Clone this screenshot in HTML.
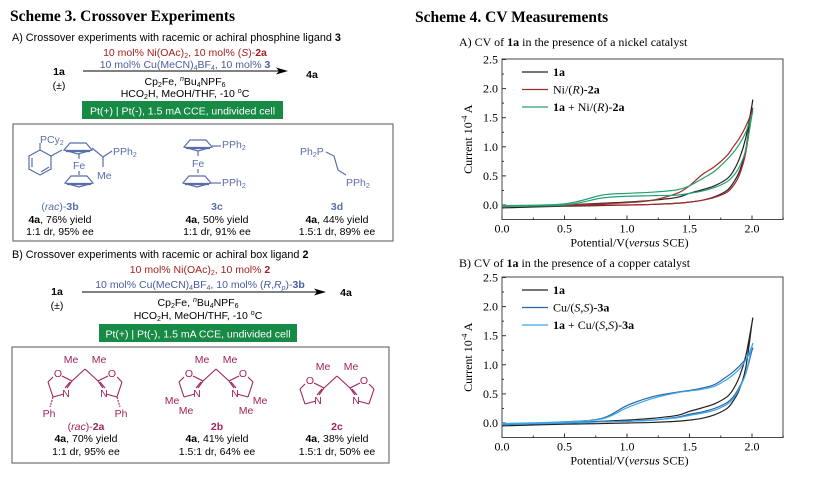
<!DOCTYPE html>
<html><head><meta charset="utf-8"><style>
html,body{margin:0;padding:0;background:#fff}
body{width:814px;height:479px;overflow:hidden;position:relative}
svg{position:absolute;left:0;top:0}
.sans{font-family:"Liberation Sans",sans-serif}
.serif{font-family:"Liberation Serif",serif}
</style></head><body>
<svg id="fig" width="814" height="479" viewBox="0 0 814 479">
<g class="serif"><text x="10" y="21" font-size="15.5" font-weight="bold">Scheme 3. Crossover Experiments</text></g>
<g class="serif"><text x="415" y="22" font-size="15.5" font-weight="bold">Scheme 4. CV Measurements</text></g>

<!-- Panel A left -->
<g class="sans" font-size="10.5">
<text x="12" y="41" font-size="10.8">A) Crossover experiments with racemic or achiral phosphine ligand <tspan font-weight="bold">3</tspan></text>
<text x="185" y="56" text-anchor="middle" fill="#a51f1f">10 mol% Ni(OAc)<tspan font-size="7" dy="2">2</tspan><tspan dy="-2">, 10 mol% (</tspan><tspan font-style="italic">S</tspan>)-<tspan font-weight="bold">2a</tspan></text>
<text x="185" y="68" text-anchor="middle" fill="#4a5d9e">10 mol% Cu(MeCN)<tspan font-size="7" dy="2">4</tspan><tspan dy="-2">BF</tspan><tspan font-size="7" dy="2">4</tspan><tspan dy="-2">, 10 mol% </tspan><tspan font-weight="bold">3</tspan></text>
<line x1="83" y1="71" x2="280" y2="71" stroke="#000" stroke-width="1"/>
<polygon points="288,71 276,67.5 279,71 276,74.5" fill="#000"/>
<text x="59" y="75" text-anchor="middle" font-weight="bold">1a</text>
<text x="59" y="89" text-anchor="middle">(±)</text>
<text x="312" y="78" text-anchor="middle" font-weight="bold">4a</text>
<text x="185" y="85" text-anchor="middle">Cp<tspan font-size="7" dy="2">2</tspan><tspan dy="-2">Fe, </tspan><tspan font-size="7" font-style="italic" dy="-4">n</tspan><tspan dy="4">Bu</tspan><tspan font-size="7" dy="2">4</tspan><tspan dy="-2">NPF</tspan><tspan font-size="7" dy="2">6</tspan></text>
<text x="185" y="97" text-anchor="middle">HCO<tspan font-size="7" dy="2">2</tspan><tspan dy="-2">H, MeOH/THF, -10 </tspan><tspan font-size="7" dy="-4">o</tspan><tspan dy="4">C</tspan></text>
<rect x="82" y="101" width="201" height="18" fill="#178a46"/>
<text x="182.5" y="114.5" text-anchor="middle" fill="#fff" font-size="10.5">Pt(+) | Pt(-), 1.5 mA CCE, undivided cell</text>
<rect x="13" y="124" width="380" height="117" fill="none" stroke="#555" stroke-width="1"/>
</g>

<!-- ligand 3 structures -->
<g stroke="#5a6daa" fill="none" stroke-width="1.2">
<polygon points="40,150 51,156 51,169 40,175 29,169 29,156"/>
<line x1="32" y1="158" x2="32" y2="167"/><line x1="41" y1="172" x2="49" y2="167"/>
<line x1="40" y1="150" x2="40" y2="143"/><line x1="51" y1="156" x2="62" y2="150"/>
<polygon points="64,150 70,143 86,143 92,150 78,154"/><line x1="66" y1="151" x2="90" y2="151" stroke-width="2.2"/>
<line x1="79" y1="154" x2="79" y2="159"/><line x1="79" y1="171" x2="79" y2="175"/>
<polygon points="65,183 71,176 87,176 93,183 79,187"/><line x1="67" y1="184" x2="91" y2="184" stroke-width="2.2"/>
<polyline points="92,148 103,157 112,151"/><line x1="103" y1="157" x2="103" y2="167"/>
<polygon points="184,147 190,140 206,140 212,147 198,151"/><line x1="186" y1="148" x2="210" y2="148" stroke-width="2.2"/>
<line x1="212" y1="146" x2="221" y2="146"/>
<line x1="198" y1="151" x2="198" y2="156"/><line x1="198" y1="169" x2="198" y2="173"/>
<polygon points="183,183 189,176 205,176 211,183 197,187"/><line x1="185" y1="184" x2="209" y2="184" stroke-width="2.2"/>
<line x1="211" y1="183" x2="221" y2="183"/>
<polyline points="326,152 334,156 338,170 346,175"/>
</g>
<g class="sans" font-size="10.5" fill="#5a6daa">
<text x="40" y="143">PCy<tspan font-size="7" dy="2">2</tspan></text>
<text x="73" y="169">Fe</text>
<text x="113" y="155">PPh<tspan font-size="7" dy="2">2</tspan></text>
<text x="97" y="179">Me</text>
<text x="192" y="167">Fe</text>
<text x="222" y="148">PPh<tspan font-size="7" dy="2">2</tspan></text>
<text x="222" y="186">PPh<tspan font-size="7" dy="2">2</tspan></text>
<text x="300" y="155">Ph<tspan font-size="7" dy="2">2</tspan><tspan dy="-2">P</tspan></text>
<text x="346" y="186">PPh<tspan font-size="7" dy="2">2</tspan></text>
<text x="60" y="210" text-anchor="middle">(<tspan font-style="italic">rac</tspan>)-<tspan font-weight="bold">3b</tspan></text>
<text x="217" y="210" text-anchor="middle" font-weight="bold">3c</text>
<text x="337" y="210" text-anchor="middle" font-weight="bold">3d</text>
</g>
<g class="sans" font-size="10.5" fill="#000" text-anchor="middle">
<text x="60" y="223"><tspan font-weight="bold">4a</tspan>, 76% yield</text>
<text x="60" y="235">1:1 dr, 95% ee</text>
<text x="217" y="223"><tspan font-weight="bold">4a</tspan>, 50% yield</text>
<text x="217" y="235">1:1 dr, 91% ee</text>
<text x="337" y="223"><tspan font-weight="bold">4a</tspan>, 44% yield</text>
<text x="337" y="235">1.5:1 dr, 89% ee</text>
</g>

<!-- Panel B left -->
<g class="sans" font-size="10.5">
<text x="12" y="258" font-size="10.8">B) Crossover experiments with racemic or achiral box ligand <tspan font-weight="bold">2</tspan></text>
<text x="200" y="273" text-anchor="middle" fill="#a51f1f">10 mol% Ni(OAc)<tspan font-size="7" dy="2">2</tspan><tspan dy="-2">, 10 mol% </tspan><tspan font-weight="bold">2</tspan></text>
<text x="200" y="288" text-anchor="middle" fill="#4a5d9e">10 mol% Cu(MeCN)<tspan font-size="7" dy="2">4</tspan><tspan dy="-2">BF</tspan><tspan font-size="7" dy="2">4</tspan><tspan dy="-2">, 10 mol% (</tspan><tspan font-style="italic">R</tspan>,<tspan font-style="italic">R</tspan><tspan font-size="7" font-style="italic" dy="2">p</tspan><tspan dy="-2">)-</tspan><tspan font-weight="bold">3b</tspan></text>
<line x1="82" y1="292" x2="318" y2="292" stroke="#000" stroke-width="1"/>
<polygon points="326,292 314,288.5 317,292 314,295.5" fill="#000"/>
<text x="57" y="295" text-anchor="middle" font-weight="bold">1a</text>
<text x="57" y="309" text-anchor="middle">(±)</text>
<text x="346" y="296" text-anchor="middle" font-weight="bold">4a</text>
<text x="198" y="306" text-anchor="middle">Cp<tspan font-size="7" dy="2">2</tspan><tspan dy="-2">Fe, </tspan><tspan font-size="7" font-style="italic" dy="-4">n</tspan><tspan dy="4">Bu</tspan><tspan font-size="7" dy="2">4</tspan><tspan dy="-2">NPF</tspan><tspan font-size="7" dy="2">6</tspan></text>
<text x="198" y="319" text-anchor="middle">HCO<tspan font-size="7" dy="2">2</tspan><tspan dy="-2">H, MeOH/THF, -10 </tspan><tspan font-size="7" dy="-4">o</tspan><tspan dy="4">C</tspan></text>
<rect x="99" y="324" width="198" height="18" fill="#178a46"/>
<text x="198" y="337.5" text-anchor="middle" fill="#fff">Pt(+) | Pt(-), 1.5 mA CCE, undivided cell</text>
<rect x="12" y="347" width="377" height="116" fill="none" stroke="#555" stroke-width="1"/>
</g>
<g id="boxlig"></g>
<g class="sans" font-size="10.5" text-anchor="middle">
<text x="86" y="430" fill="#a0245c">(<tspan font-style="italic">rac</tspan>)-<tspan font-weight="bold">2a</tspan></text>
<text x="217" y="430" fill="#a0245c" font-weight="bold">2b</text>
<text x="337" y="430" fill="#a0245c" font-weight="bold">2c</text>
<text x="86" y="442"><tspan font-weight="bold">4a</tspan>, 70% yield</text>
<text x="86" y="455">1:1 dr, 95% ee</text>
<text x="217" y="442"><tspan font-weight="bold">4a</tspan>, 41% yield</text>
<text x="217" y="455">1.5:1 dr, 64% ee</text>
<text x="337" y="442"><tspan font-weight="bold">4a</tspan>, 38% yield</text>
<text x="337" y="455">1.5:1 dr, 50% ee</text>
</g>

<!-- Chart A -->
<g class="serif" font-size="12">
<text x="459" y="46">A) CV of <tspan font-weight="bold">1a</tspan> in the presence of a nickel catalyst</text>
</g>
<g id="chartA"></g>
<g class="serif" font-size="12">
<text x="459" y="267">B) CV of <tspan font-weight="bold">1a</tspan> in the presence of a copper catalyst</text>
</g>
<g id="chartB"></g>
</svg>
<script>
// ---- Chart data (V, 10^-4 A) ----
const xTicks = [0.0, 0.5, 1.0, 1.5, 2.0];
const yTicks = [0.0, 0.5, 1.0, 1.5, 2.0, 2.5];
const xTickLabels = ["0.0","0.5","1.0","1.5","2.0"];
const yTickLabels = ["0.0","0.5","1.0","1.5","2.0","2.5"];
const potentials = [0.0, 0.5, 0.8, 1.0, 1.2, 1.4, 1.5, 1.6, 1.7, 1.8, 1.85, 1.9, 1.95, 2.0];
// forward (lower) and reverse (upper) sweeps, aligned to potentials
const a1aFwd   = [-0.05,-0.02,-0.01,0.00,0.01,0.03,0.05,0.08,0.14,0.25,0.38,0.58,0.95,1.72];
const a1aRev   = [-0.02,0.00,0.03,0.05,0.08,0.13,0.20,0.26,0.33,0.45,0.58,0.80,1.15,1.72];
const aNiFwd   = [-0.02,-0.01,0.00,0.00,0.01,0.03,0.05,0.08,0.13,0.22,0.33,0.52,0.90,1.60];
const aNiRev   = [-0.02,0.00,0.02,0.04,0.08,0.20,0.33,0.52,0.66,0.85,1.00,1.15,1.35,1.60];
const aMixFwd  = [-0.02,0.00,0.12,0.15,0.16,0.17,0.20,0.24,0.30,0.40,0.50,0.66,0.95,1.55];
const aMixRev  = [-0.01,0.02,0.17,0.20,0.22,0.26,0.33,0.45,0.58,0.78,0.90,1.05,1.25,1.55];
const bCuFwd   = [-0.03,0.00,0.02,0.03,0.05,0.10,0.15,0.19,0.25,0.35,0.45,0.62,0.85,1.25];
const bCuRev   = [-0.02,0.02,0.08,0.30,0.45,0.53,0.56,0.60,0.66,0.80,0.88,0.98,1.10,1.25];
const bMixFwd  = [-0.02,0.00,0.02,0.03,0.05,0.09,0.13,0.17,0.22,0.32,0.42,0.60,0.85,1.32];
const bMixRev  = [-0.01,0.02,0.07,0.26,0.42,0.52,0.55,0.58,0.63,0.75,0.83,0.93,1.08,1.32];
const legendA = ["1a","Ni/(R)-2a","1a + Ni/(R)-2a"];
const legendB = ["1a","Cu/(S,S)-3a","1a + Cu/(S,S)-3a"];

const NS="http://www.w3.org/2000/svg";
function mk(tag,attrs,parent){const e=document.createElementNS(NS,tag);for(const k in attrs)e.setAttribute(k,attrs[k]);parent.appendChild(e);return e;}
function smooth(pts){let d="M"+pts[0][0]+","+pts[0][1];for(let i=0;i<pts.length-1;i++){const p0=pts[Math.max(0,i-1)],p1=pts[i],p2=pts[i+1],p3=pts[Math.min(pts.length-1,i+2)];
d+=" C"+(p1[0]+(p2[0]-p0[0])/6)+","+(p1[1]+(p2[1]-p0[1])/6)+" "+(p2[0]-(p3[0]-p1[0])/6)+","+(p2[1]-(p3[1]-p1[1])/6)+" "+p2[0]+","+p2[1];}return d;}

function drawChart(g,top,series,legend){
  const L=502,R=783,x0=502,xPer=125,y0=top+146,yPer=58.2,T=top,B=y0+14.5;
  const sx=v=>x0+v*xPer, sy=v=>y0-v*yPer;
  const frame=mk('rect',{x:L,y:T,width:R-L,height:B-T,fill:'none',stroke:'#333','stroke-width':0.9},g);
  
  
  xTicks.forEach((t,i)=>{const x=sx(t);mk('line',{x1:x,y1:B,x2:x,y2:B-4,stroke:'#333'},g);
    const tx=mk('text',{x:x,y:B+13,'text-anchor':'middle','font-size':12,class:'serif'},g);tx.textContent=xTickLabels[i];
    
    
    mk('line',{x1:sx(t+0.25),y1:B,x2:sx(t+0.25),y2:B-2,stroke:'#333'},g);});
  yTicks.forEach((t,i)=>{const y=sy(t);mk('line',{x1:L,y1:y,x2:L+4,y2:y,stroke:'#333'},g);
    if(t<2.5)mk('line',{x1:L,y1:sy(t+0.25),x2:L+2,y2:sy(t+0.25),stroke:'#333'},g);
    const ty=mk('text',{x:L-4,y:y+4,'text-anchor':'end','font-size':12,class:'serif'},g);ty.textContent=yTickLabels[i];
    
    });
  const xl=mk('text',{x:(L+R)/2-13,y:B+27,'text-anchor':'middle','font-size':12,class:'serif'},g);
  xl.innerHTML='Potential/V(<tspan font-style="italic">versus</tspan> SCE)';
  
  
  const yl=mk('text',{x:0,y:0,'text-anchor':'middle','font-size':12,class:'serif',transform:`translate(${L-30},${(T+B)/2}) rotate(-90)`},g);
  yl.innerHTML='Current 10<tspan font-size="8" dy="-5">-4</tspan><tspan dy="5"> A</tspan>';
  
  
  series.forEach(s=>{
    const pts=[];potentials.forEach((v,i)=>pts.push([sx(v),sy(s.fwd[i])]));
    for(let i=potentials.length-1;i>=0;i--)pts.push([sx(potentials[i]),sy(s.rev[i])]);
    const p=mk('path',{d:smooth(pts),fill:'none',stroke:s.color,'stroke-width':1.2},g);
    
    
  });
  legend.forEach((lab,i)=>{const y=T+13+i*17.5;
    mk('line',{x1:522,y1:y,x2:548,y2:y,stroke:series[i].color,'stroke-width':1.3},g);
    const t=mk('text',{x:553,y:y+4,'font-size':12,class:'serif'},g);
    t.innerHTML=series[i].html;
    
    });
}
drawChart(document.getElementById('chartA'),59,[
 {key:'1a',fwd:a1aFwd,rev:a1aRev,color:'#222',html:'<tspan font-weight="bold">1a</tspan>'},
 {key:'ni',fwd:aNiFwd,rev:aNiRev,color:'#a8292b',html:'Ni/(<tspan font-style="italic">R</tspan>)-<tspan font-weight="bold">2a</tspan>'},
 {key:'mix',fwd:aMixFwd,rev:aMixRev,color:'#26a172',html:'<tspan font-weight="bold">1a</tspan> + Ni/(<tspan font-style="italic">R</tspan>)-<tspan font-weight="bold">2a</tspan>'}],legendA);
drawChart(document.getElementById('chartB'),277,[
 {key:'1a',fwd:a1aFwd,rev:a1aRev,color:'#222',html:'<tspan font-weight="bold">1a</tspan>'},
 {key:'cu',fwd:bCuFwd,rev:bCuRev,color:'#2a63a6',html:'Cu/(<tspan font-style="italic">S</tspan>,<tspan font-style="italic">S</tspan>)-<tspan font-weight="bold">3a</tspan>'},
 {key:'mix',fwd:bMixFwd,rev:bMixRev,color:'#3aa6ea',html:'<tspan font-weight="bold">1a</tspan> + Cu/(<tspan font-style="italic">S</tspan>,<tspan font-style="italic">S</tspan>)-<tspan font-weight="bold">3a</tspan>'}],legendB);

// box ligand drawings
const bl=document.getElementById('boxlig');
function boxLig(cx,kind){
  const c='#a0245c';
  const g=mk('g',{stroke:c,fill:'none','stroke-width':1.1},bl);
  
  
  const txt=(x,y,s)=>{const t=mk('text',{x:x,y:y,fill:c,stroke:'none','font-size':10.5,class:'sans','text-anchor':'middle'},bl);t.textContent=s;};
  const qy=kind==='2c'?376:369;
  [-1,1].forEach(sd=>{
    const C2=[cx+sd*13,qy+12],O=[cx+sd*27,qy+4],C5=[cx+sd*37,qy+13],C4=[cx+sd*32,qy+28],N=[cx+sd*18,qy+25];
    mk('line',{x1:cx,y1:qy,x2:C2[0],y2:C2[1]},g);
    mk('line',{x1:C2[0],y1:C2[1],x2:O[0]-sd*4,y2:O[1]+3},g);
    mk('line',{x1:O[0]+sd*5,y1:O[1]+4,x2:C5[0],y2:C5[1]},g);
    mk('line',{x1:C5[0],y1:C5[1],x2:C4[0],y2:C4[1]},g);
    mk('line',{x1:C4[0],y1:C4[1],x2:N[0]+sd*3,y2:N[1]},g);
    mk('line',{x1:C2[0],y1:C2[1],x2:N[0],y2:N[1]-6},g);
    mk('line',{x1:C2[0]+sd*2,y1:C2[1]+1,x2:N[0]+sd*2,y2:N[1]-6},g);
    txt(O[0],O[1]+4,'O');txt(N[0]+sd*1,N[1]+3,'N');
    if(kind==='2a'){mk('line',{x1:C4[0],y1:C4[1],x2:C4[0]+sd*3,y2:C4[1]+10,'stroke-dasharray':'2,1'},g);txt(C4[0]+sd*4,C4[1]+20,'Ph');}
    if(kind==='2b'){txt(C4[0]+sd*12,C4[1]+7,'Me');txt(C4[0]-sd*2,C4[1]+17,'Me');}
  });
  txt(cx-14,qy-6,'Me');txt(cx+14,qy-6,'Me');
}
boxLig(85,'2a');boxLig(216,'2b');boxLig(337,'2c');
</script>
</body></html>
